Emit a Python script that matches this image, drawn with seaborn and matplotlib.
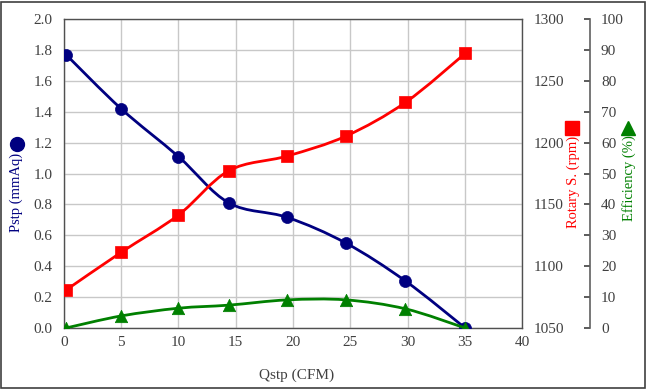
import numpy as np
import pandas as pd
import matplotlib
matplotlib.use("Agg")
import matplotlib.pyplot as plt
from matplotlib.path import Path
from matplotlib.patches import PathPatch, Rectangle
from matplotlib.lines import Line2D
import seaborn as sns

# data
flow = [0.2, 5.0, 10.0, 14.4, 19.5, 24.6, 29.8, 35.0]
pressure = [1.77, 1.42, 1.11, 0.81, 0.716, 0.55, 0.304, 0.0]
speed = [1080.7, 1111.2, 1141.4, 1177.3, 1189.2, 1205.3, 1232.6, 1272.2]
efficiency = [0.0, 3.9, 6.4, 7.4, 9.1, 9.1, 6.2, 0.0]

x_ticks = [0, 5, 10, 15, 20, 25, 30, 35, 40]
p_ticks = [0.0, 0.2, 0.4, 0.6, 0.8, 1.0, 1.2, 1.4, 1.6, 1.8, 2.0]
s_ticks = [1050, 1100, 1150, 1200, 1250, 1300]
e_ticks = [0, 10, 20, 30, 40, 50, 60, 70, 80, 90, 100]

df = pd.DataFrame({"flow": flow, "pressure": pressure, "speed": speed, "efficiency": efficiency})

sns.set_style("white")
plt.rcParams["font.family"] = ["Liberation Serif", "DejaVu Sans"]
plt.rcParams["font.size"] = 11

NAVY, RED, GREEN = "#000080", "#ff0000", "#008000"
TXT = "#404040"


def smooth_line(ax, xs, ys, color):
    # excel-like smoothed line: catmull-rom segments as cubic beziers
    pts = np.column_stack([xs, ys]).astype(float)
    n = len(pts)
    verts = [pts[0]]
    codes = [Path.MOVETO]
    for i in range(n - 1):
        p_prev = pts[max(i - 1, 0)]
        p0, p1 = pts[i], pts[i + 1]
        p_next = pts[min(i + 2, n - 1)]
        verts += [p0 + (p1 - p_prev) / 6, p1 - (p_next - p0) / 6, p1]
        codes += [Path.CURVE4] * 3
    ax.add_patch(PathPatch(Path(verts, codes), fill=False, edgecolor=color, lw=2.0, zorder=2))


fig = plt.figure(figsize=(6.47, 3.9), dpi=100)
ax = fig.add_axes([0.0985, 0.159, 0.709, 0.792])
ax2 = ax.twinx()
ax3 = ax.twinx()

# pressure
smooth_line(ax, df.flow, df.pressure, NAVY)
sns.scatterplot(data=df, x="flow", y="pressure", ax=ax, color=NAVY, marker="o", s=75,
                edgecolor=NAVY, linewidth=0.5, zorder=3)
# rotary speed
smooth_line(ax2, df.flow, df.speed, RED)
sns.scatterplot(data=df, x="flow", y="speed", ax=ax2, color=RED, marker="s", s=75,
                edgecolor=RED, linewidth=0.5, zorder=3)
# efficiency
smooth_line(ax3, df.flow, df.efficiency, GREEN)
sns.scatterplot(data=df, x="flow", y="efficiency", ax=ax3, color=GREEN, marker="^", s=80,
                edgecolor=GREEN, linewidth=0.5, zorder=3)

ax.set_xlim(0, 40)
ax.set_ylim(0, 2.0)
ax2.set_ylim(1050, 1300)
ax3.set_ylim(0, 100)

ax.set_xticks(x_ticks)
ax.set_xticklabels([str(t) for t in x_ticks])
ax.set_yticks(p_ticks)
ax.set_yticklabels([f"{t:.1f}" for t in p_ticks])
ax2.set_yticks(s_ticks)
ax3.set_yticks(e_ticks)

ax.grid(True, color="#c8c8c8", lw=1.0)
ax.set_axisbelow(True)

ax.tick_params(axis="both", length=0, colors=TXT, labelsize=11)
ax.tick_params(axis="x", pad=6)
ax.tick_params(axis="y", pad=8)
ax2.tick_params(axis="y", length=0, colors=TXT, labelsize=11, pad=8)
ax3.tick_params(axis="y", direction="in", length=4, width=1.2, colors=TXT, labelsize=11, pad=8)

for s in ax.spines.values():
    s.set_color("#505050")
    s.set_linewidth(1.0)
for s in ["top", "left", "bottom"]:
    ax2.spines[s].set_visible(False)
    ax3.spines[s].set_visible(False)
ax2.spines["right"].set_visible(False)
ax3.spines["right"].set_position(("axes", 1.147))
ax3.spines["right"].set_color("#606060")
ax3.spines["right"].set_linewidth(1.2)

ax.set_xlabel("Qstp (CFM)", color=TXT, fontsize=11)
ax.xaxis.set_label_coords(0.508, -0.13)
ax.set_ylabel("Pstp (mmAq)", color=NAVY, fontsize=10.5)
ax.yaxis.set_label_coords(-0.089, 0.44)
ax2.set_ylabel("Rotary S. (rpm)", color=RED, fontsize=10.5)
ax2.yaxis.set_label_coords(1.095, 0.472)
ax3.set_ylabel("Efficiency (%)", color=GREEN, fontsize=10.5)
ax3.yaxis.set_label_coords(1.217, 0.485)

# series keys next to the axis titles
for kx, ky, mk, col, ms in [(-0.1018, 0.595, "o", NAVY, 10),
                            (1.108, 0.647, "s", RED, 10),
                            (1.230, 0.647, "^", GREEN, 10)]:
    fig.add_artist(Line2D([kx], [ky], marker=mk, markersize=ms, color=col, linestyle="none",
                          transform=ax.transAxes, clip_on=False))

for a in (ax, ax2, ax3):
    a.patch.set_visible(False)

fig.patches.append(Rectangle((0.002, 0.004), 0.995, 0.992, transform=fig.transFigure,
                             fill=False, edgecolor="#404040", lw=1.2))

fig.savefig("out.png", dpi=100)
